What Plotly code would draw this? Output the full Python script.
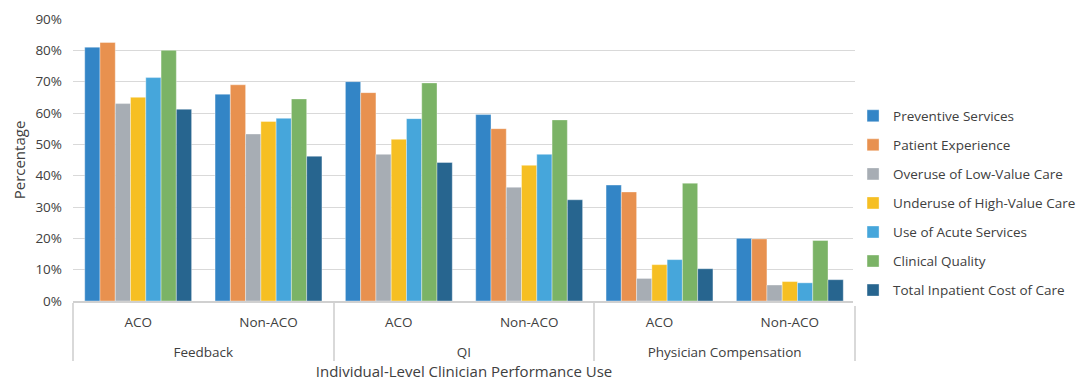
import plotly.graph_objects as go

# Category levels for the two-level x axis (outer labels sit one line lower)
groups = ["<br>Feedback", "<br>Feedback", "<br>QI", "<br>QI",
          "<br>Physician Compensation", "<br>Physician Compensation"]
org_types = ["ACO", "Non-ACO", "ACO", "Non-ACO", "ACO", "Non-ACO"]

# Share of practices using each measure type (%)
preventive_services = [81, 66, 70, 59.5, 37, 20]
patient_experience = [82.5, 69, 66.5, 55, 34.8, 19.8]
overuse_low_value = [63, 53.3, 46.8, 36.3, 7.2, 5.1]
underuse_high_value = [65, 57.3, 51.6, 43.3, 11.6, 6.2]
acute_services = [71.3, 58.3, 58.2, 46.8, 13.2, 5.8]
clinical_quality = [80, 64.5, 69.6, 57.8, 37.6, 19.3]
inpatient_cost = [61.2, 46.2, 44.2, 32.3, 10.3, 6.8]

series = [
    ("Preventive Services", preventive_services, "#3385C6"),
    ("Patient Experience", patient_experience, "#E8914F"),
    ("Overuse of Low-Value Care", overuse_low_value, "#A7ADB4"),
    ("Underuse of High-Value Care", underuse_high_value, "#F6BF23"),
    ("Use of Acute Services", acute_services, "#46A6DB"),
    ("Clinical Quality", clinical_quality, "#7BB366"),
    ("Total Inpatient Cost of Care", inpatient_cost, "#27658F"),
]

y_ticks = list(range(0, 100, 10))
y_tick_labels = [f"{t}%" for t in y_ticks]

font_family = "Open Sans, Lato, sans-serif"
text_color = "#404040"

fig = go.Figure()
for name, values, color in series:
    fig.add_trace(go.Bar(
        name=name,
        legendgroup=name,
        x=[groups, org_types],
        y=values,
        marker=dict(color=color, line=dict(color="rgba(255,255,255,0.6)", width=0.6)),
    ))

fig.update_layout(
    width=1077,
    height=381,
    margin=dict(l=73, r=222, t=19, b=80, autoexpand=False),
    barmode="group",
    bargap=0.18,
    bargroupgap=0,
    plot_bgcolor="white",
    paper_bgcolor="white",
    font=dict(family=font_family, size=13, color=text_color),
    legend=dict(
        x=0.9975, y=0.3475, xanchor="left", yanchor="middle",
        font=dict(size=13.5, color=text_color),
        tracegroupgap=8.5,
        traceorder="grouped",
    ),
    xaxis=dict(
        type="multicategory",
        showdividers=True,
        dividercolor="#D9D9D9",
        dividerwidth=1.5,
        showline=True,
        linecolor="#D0D0D0",
        linewidth=1.5,
        ticklabelstandoff=8,
        tickfont=dict(size=13.5, color=text_color),
        title=dict(text="Individual-Level Clinician Performance Use",
                   font=dict(size=15, color=text_color), standoff=7),
    ),
    yaxis=dict(
        range=[0, 90],
        tickvals=y_ticks,
        ticktext=y_tick_labels,
        showgrid=True,
        gridcolor="#D9D9D9",
        gridwidth=1,
        zeroline=False,
        ticklabelstandoff=10,
        tickfont=dict(size=13.5, color=text_color),
        title=dict(text="Percentage", font=dict(size=15, color=text_color), standoff=6),
    ),
)

fig.write_html("out.html")
